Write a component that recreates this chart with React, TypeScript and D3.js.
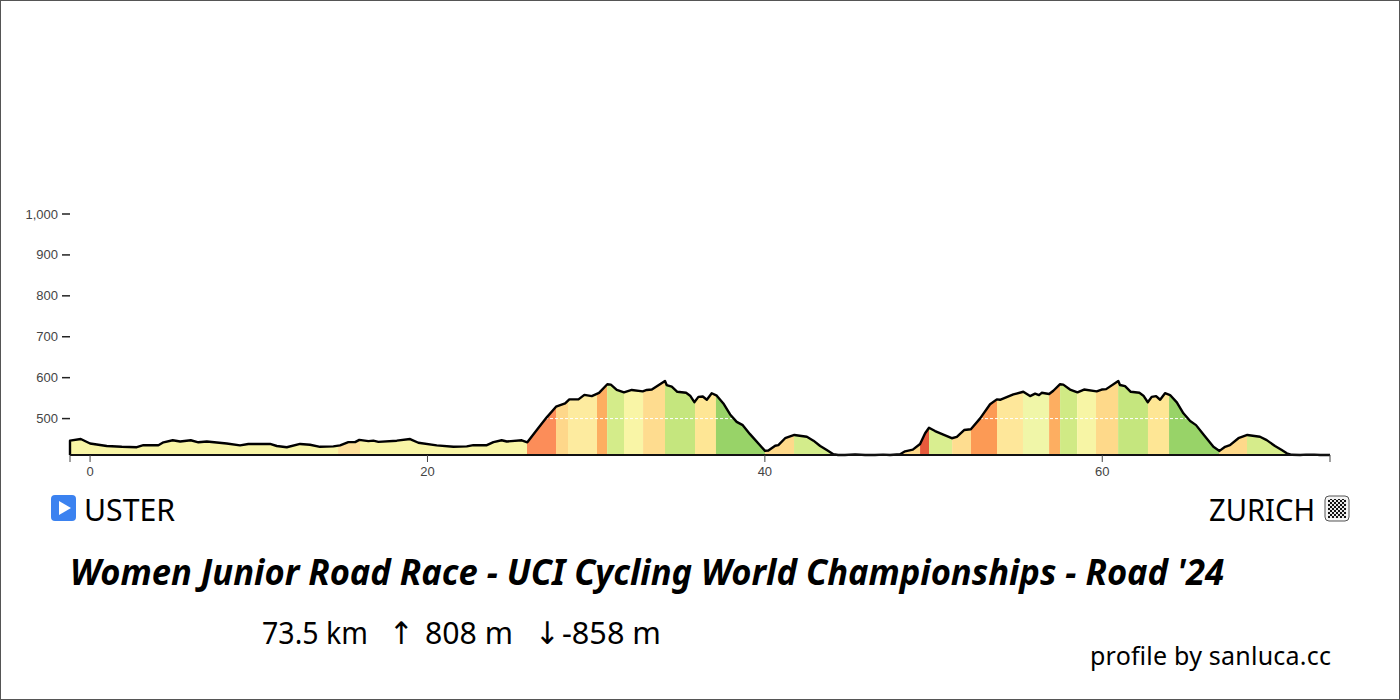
import React from "react";
import * as d3 from "d3";

const kmValues = [
  -1.19, -0.55, 0, 0.99, 1.88, 2.77, 3.16, 4.05, 4.35, 4.9, 5.34, 5.97, 6.42, 6.92, 8.1, 8.89, 9.38, 10.67, 11.07, 11.66, 12.45,
  13.04, 13.63, 14.42, 14.82, 15.31, 15.71, 15.96, 16.5, 16.79, 17.09, 18.18, 18.97, 19.46, 20.55, 21.54, 22.33, 22.72, 23.52, 23.91, 24.4, 24.7, 25.59, 25.92,
  26.48, 27.07, 27.62, 28.16, 28.41, 28.95, 29.3, 29.74, 30.17, 30.66, 30.87, 31.22, 31.65, 32.11, 32.76, 33.0, 33.3, 34.08, 34.18, 34.48, 34.81, 35.33, 35.57, 35.82, 36.06, 36.32, 36.56, 36.85, 37.15, 37.54, 37.94, 38.33, 38.69, 39.12,
  40.01, 40.21, 40.61, 40.8, 41.2, 41.75, 42.49, 42.88, 43.28, 43.67, 44.06, 44.34, 44.75, 45.35, 45.94, 46.53, 47.01, 47.42, 48.02, 48.31, 48.77, 49.2, 49.5, 49.73, 50.09, 50.58, 51.08, 51.38, 51.81, 52.21, 52.76,
  53.35, 53.75, 53.94, 54.73, 55.32, 55.72, 56.02, 56.25, 56.41, 56.85, 57.1, 57.5, 57.69, 58.09, 58.53, 58.92, 59.67, 59.97, 60.23, 60.95, 61.05, 61.35, 61.69, 62.2, 62.44, 62.7, 62.93, 63.19, 63.43, 63.72, 64.02, 64.42, 64.81, 65.21, 65.56, 66.0, 66.59, 66.95,
  67.28, 67.57, 68.07, 68.6, 69.35, 69.75, 70.24, 70.64, 70.94, 71.23, 71.73, 72.08, 72.56, 72.91, 73.5,
];
const elevations = [
  446, 450, 439, 433, 431, 430, 435, 435, 442, 447, 444, 447, 442, 444, 439, 434.5, 438, 438, 433, 430, 438,
  436, 431, 432, 434.5, 442.5, 442.5, 448, 445, 446, 443, 446, 450, 441, 434.5, 431, 432, 435, 435, 442.5, 447, 444, 447, 442,
  472, 503, 529, 537, 547, 547, 558, 555, 563, 584, 583, 570, 564, 570, 566.5, 570, 571, 592, 582, 578, 565.5, 563, 556, 540, 553, 554, 546, 562, 556, 537, 510, 492, 484, 462,
  421, 422, 433.5, 435, 452, 460, 455.5, 446, 433, 423, 413, 409.5, 410, 412.5, 410, 409.5, 412, 410.5, 413, 420, 424, 438, 464, 477.5, 469.5, 461, 452, 455.5, 472, 474, 500.5,
  535, 547, 546, 559, 565.5, 555, 561, 557.5, 563, 560, 568, 584, 583, 571, 564, 571, 566.5, 571, 572, 592, 582, 579.5, 565.5, 563, 556, 540, 553, 555, 546, 562, 557.5, 539.6, 513, 494, 484, 461, 431, 421,
  431, 435, 452, 460, 455.5, 447.4, 433, 423, 415, 411.5, 409.5, 412, 412, 409.5, 410,
];

const bandEnds = [14.7, 16.0, 25.9, 27.62, 28.33, 30.05, 30.65, 31.65, 32.78, 34.08, 35.86, 37.1, 40.01, 41.73, 44.04, 48.01, 49.2, 49.73, 51.1, 52.22, 53.76, 55.3, 56.85, 57.5, 58.51, 59.63, 60.94, 62.71, 63.96, 66.92, 68.58, 71.13, 73.5];
const bandColors = ["#f8f5a6", "#fddf9b", "#f8f5a6", "#fc8d59", "#fed78a", "#fdeb9f", "#fdae61", "#d4ec8a", "#f9f5a6", "#fedc8f", "#c5e67e", "#fee695", "#98d368", "#fed98a", "#d3ec8b", "#f8f5a6", "#fed98a", "#e65a3c", "#d9ee90", "#fedd90", "#fc9a55", "#fee79a", "#f0f6a8", "#fdae61", "#d0ea85", "#f7f5a5", "#fed98a", "#c5e67e", "#fee695", "#98d368", "#fed98a", "#d6ec8b", "#f8f5a6"];

const xTickValues = [0, 20, 40, 60];
const yTickValues = [500, 600, 700, 800, 900, 1000];
const titleText = "Women Junior Road Race - UCI Cycling World Championships - Road '24";
const startName = "USTER";
const endName = "ZURICH";
const statLabels = ["73.5 km", "↑", "808 m", "↓", "-858 m"];
const creditText = "profile by sanluca.cc";

const width = 1400;
const height = 700;
const floor = 411;
const x = d3.scaleLinear().domain([-1.19, 73.5]).range([70, 1330]);
const y = d3.scaleLinear().domain([floor, 1000]).range([455, 214]);

const points: [number, number][] = kmValues.map((k, i) => [k, elevations[i]]);
const clampEle = (e: number) => Math.max(e, floor);
const areaPath = d3.area<[number, number]>().x((d) => x(d[0])).y0(y(floor)).y1((d) => y(clampEle(d[1])))(points) as string;
const linePath = d3.line<[number, number]>().x((d) => x(d[0])).y((d) => y(clampEle(d[1])))([[kmValues[0], floor], ...points]) as string;

const labelFont = "'Liberation Sans', Arial, sans-serif";
const textFont = "'Noto Sans', sans-serif";

// left edge and width of each piece of the stats line
const statX = [262, 389, 425, 535, 562];
const statW = [106, 25, 88, 25, 99];

export default function App() {
  return (
    <svg width={width} height={height} style={{ position: "absolute", left: 0, top: 0, background: "#fff" }}>
      <defs>
        <clipPath id="profile"><path d={areaPath} /></clipPath>
        <pattern id="checker" width="4" height="4" patternUnits="userSpaceOnUse" x="1326" y="498">
          <rect width="4" height="4" fill="#e8e8e8" />
          <rect width="2" height="2" fill="#111" />
          <rect x="2" y="2" width="2" height="2" fill="#111" />
        </pattern>
      </defs>
      <rect x={0.5} y={0.5} width={width - 1} height={height - 1} fill="#fff" stroke="#555" />

      <g clipPath="url(#profile)">
        {bandEnds.map((end, i) => {
          const start = i === 0 ? kmValues[0] : bandEnds[i - 1];
          return <rect key={i} x={x(start)} y={214} width={x(end) - x(start)} height={241} fill={bandColors[i]} />;
        })}
        <line x1={x.range()[0]} x2={x.range()[1]} y1={y(500)} y2={y(500)} stroke="#fff" strokeWidth={1} strokeDasharray="3 2" />
      </g>
      <path d={linePath} fill="none" stroke="#000" strokeWidth={2.4} strokeLinejoin="round" />

      <line x1={x.range()[0]} x2={x.range()[1]} y1={455} y2={455} stroke="#111" strokeWidth={2} />
      {[...xTickValues, ...x.domain()].map((t) => (
        <line key={t} x1={x(t)} x2={x(t)} y1={455} y2={462} stroke="#444" strokeWidth={1} />
      ))}
      {xTickValues.map((t) => (
        <text key={t} x={x(t)} y={476} textAnchor="middle" fontFamily={labelFont} fontSize={13} fill="#444">{d3.format(",")(t)}</text>
      ))}
      {yTickValues.map((t) => (
        <g key={t}>
          <line x1={62} x2={70} y1={y(t)} y2={y(t)} stroke="#222" strokeWidth={1.5} />
          <text x={58} y={y(t) + 4.5} textAnchor="end" fontFamily={labelFont} fontSize={13} fill="#444">{d3.format(",")(t)}</text>
        </g>
      ))}

      <rect x={51} y={495} width={25} height={26} rx={4} fill="#3b82f0" />
      <path d="M59 501 L71 508 L59 515 Z" fill="#fff" />
      <text x={84} y={521} fontFamily={textFont} fontSize={31} fill="#000" textLength={91} lengthAdjust="spacingAndGlyphs">{startName}</text>

      <text x={1209} y={521} fontFamily={textFont} fontSize={31} fill="#000" textLength={106} lengthAdjust="spacingAndGlyphs">{endName}</text>
      <rect x={1325} y={496} width={24} height={25} rx={4} fill="#f4f4f4" stroke="#555" strokeWidth={1} />
      <rect x={1328} y={499} width={18} height={19} fill="url(#checker)" />

      <text x={70} y={585} fontFamily={textFont} fontSize={35} fontWeight={700} fontStyle="italic" fill="#000" textLength={1154} lengthAdjust="spacingAndGlyphs">{titleText}</text>
      {statLabels.map((s, i) => (
        <text key={i} x={statX[i]} y={644} fontFamily={i === 1 || i === 3 ? "'DejaVu Sans', sans-serif" : textFont} fontSize={31} fill="#000" textLength={statW[i]} lengthAdjust="spacingAndGlyphs">{s}</text>
      ))}
      <text x={1090} y={665} fontFamily={textFont} fontSize={25} fill="#000" textLength={241} lengthAdjust="spacing">{creditText}</text>
    </svg>
  );
}
